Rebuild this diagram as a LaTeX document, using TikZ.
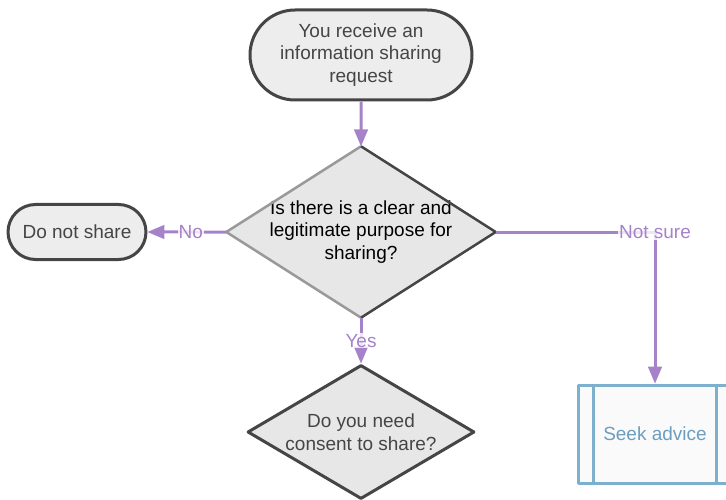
\documentclass[tikz,border=0pt]{standalone}
\usepackage{fontspec}
\setmainfont{Liberation Sans}
\usepackage{tikz}
\usetikzlibrary{calc}
\usetikzlibrary{arrows}
\usetikzlibrary{shapes.geometric,shapes.misc}
\definecolor{ffflow}{rgb}{0.65,0.51,0.79}
\definecolor{ggline}{rgb}{0.27,0.27,0.27}
\definecolor{ggfill}{rgb}{0.93,0.93,0.93}
\definecolor{ddfill}{rgb}{0.905,0.905,0.905}
\definecolor{lightedge}{rgb}{0.6,0.6,0.6}
\definecolor{bbedge}{rgb}{0.49,0.69,0.8}
\definecolor{bbtext}{rgb}{0.42,0.62,0.75}
\tikzstyle{every node}=[font=\fontsize{19}{22.5}\selectfont]
\tikzstyle{terminal}=[rounded rectangle,draw=ggline,fill=ggfill,line width=3pt,text=ggline,align=center,inner sep=0pt]
\tikzstyle{decision}=[diamond,fill=ddfill,inner sep=0pt]
\tikzstyle{flow}=[->,line width=3pt,color=ffflow]
\tikzstyle{lbl}=[fill=white,fill opacity=0.8,text opacity=1,text=ffflow,inner sep=1pt]

\begin{document}
\begin{tikzpicture}[line cap=butt,line join=round,>=triangle 45,x=1pt,y=-1pt]
            \useasboundingbox (0,0) rectangle (726,500);
            \clip (0,0) rectangle (726,500);
            \node [terminal,minimum width=222pt,minimum height=90pt] (start) at (361,55) {You receive an\\information sharing\\request};
            \node [decision,minimum width=269pt,minimum height=171pt,label={[align=center,text=black]center:Is there is a clear and\\legitimate purpose for\\sharing?}] (purpose) at (361,232) {};
            \draw [line width=2.5pt,color=lightedge] (purpose.north) -- (purpose.west) -- (purpose.south);
            \draw [line width=2.5pt,color=ggline] (purpose.north) -- (purpose.east) -- (purpose.south);
            \node [terminal,minimum width=138pt,minimum height=55pt] (noshare) at (77,232) {Do not share};
            \node [decision,draw=ggline,line width=3pt,minimum width=227pt,minimum height=134pt,label={[align=center,text=ggline]center:Do you need\\consent to share?}] (consent) at (361,432) {};
            \node [rectangle,draw=bbedge,fill=white!98!black,line width=3pt,text=bbtext,minimum width=154pt,minimum height=98pt] (seek) at (655,434) {Seek advice};
            \draw [line width=3pt,color=bbedge] ($(seek.north west)+(17,0)$) -- ($(seek.south west)+(17,0)$);
            \draw [line width=3pt,color=bbedge] ($(seek.north east)+(-17,0)$) -- ($(seek.south east)+(-17,0)$);
            \draw [flow] (start) -- (purpose);
            \draw [flow] (purpose) -- node [lbl,pos=0.45] {No} (noshare);
            \draw [flow] (purpose) -- node [lbl] {Yes} (consent);
            \draw [flow] (purpose.east) -| node [lbl] {Not sure} (seek.north);
            \end{tikzpicture}
\end{document}
